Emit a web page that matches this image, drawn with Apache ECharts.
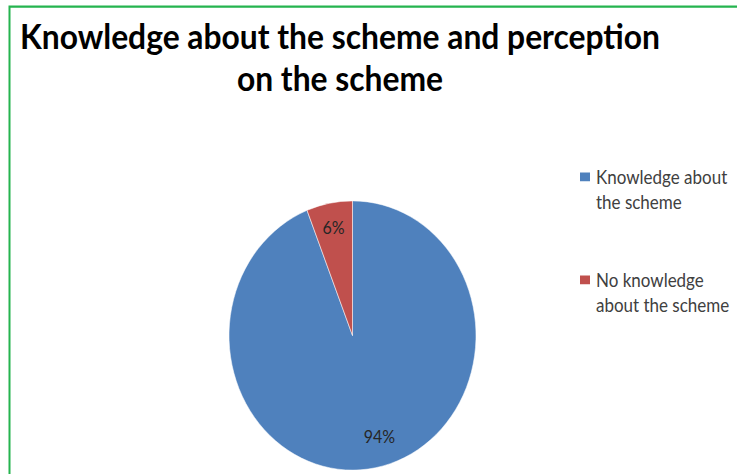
<!DOCTYPE html>
<html>
<head>
<meta charset="utf-8">
<script src="https://cdn.jsdelivr.net/npm/echarts@6/dist/echarts.min.js"></script>
<style>
  html, body { margin: 0; padding: 0; background: #fff; }
  #frame { width: 737px; height: 474px; overflow: hidden; position: relative; }
  /* the drawing is stretched vertically, so the pie renders as a tall ellipse */
  #chart {
    position: absolute;
    left: 0;
    top: 0;
    width: 737px;
    height: 435px;
    transform: scale(1, 1.09);
    transform-origin: 0 0;
  }
</style>
</head>
<body>
<div id="frame"><div id="chart"></div></div>
<script>
// Survey responses: share of respondents aware of the scheme
const categories = ['Knowledge about the scheme', 'No knowledge about the scheme'];
const shares = [94, 6];
// Legend text broken over two lines (a blank first line keeps the marker beside line one)
const legendLines = {
  'Knowledge about the scheme': ' \nKnowledge about\nthe scheme',
  'No knowledge about the scheme': ' \nNo knowledge\nabout the scheme'
};
const sliceColors = ['#4F81BD', '#C0504D'];

const FONT = 'Lato, "Liberation Sans", sans-serif';
const pieData = categories.map((name, i) => ({ name, value: shares[i] }));

const chart = echarts.init(document.getElementById('chart'), null, { renderer: 'svg' });
chart.setOption({
  animation: false,
  backgroundColor: '#ffffff',
  color: sliceColors,
  graphic: [{
    type: 'rect',
    shape: { x: 9.5, y: 6, width: 900, height: 700 },
    style: { fill: 'none', stroke: '#25b44f', lineWidth: 2 },
    silent: true
  }],
  title: {
    text: 'Knowledge about the scheme and perception\non the scheme',
    left: 340,
    top: 13.5,
    padding: 0,
    textAlign: 'center',
    textStyle: {
      fontFamily: FONT,
      fontWeight: 'bold',
      fontSize: 31.8,
      lineHeight: 38.5,
      color: '#000000'
    }
  },
  legend: {
    orient: 'vertical',
    left: 578,
    top: 128.5,
    padding: 0,
    itemWidth: 12,
    itemHeight: 10,
    itemGap: 27,
    icon: 'rect',
    formatter: name => legendLines[name] || name,
    textStyle: {
      fontFamily: FONT,
      fontSize: 17,
      lineHeight: 22.5,
      color: '#404040'
    },
    data: categories
  },
  series: [
    {
      // filled slices
      type: 'pie',
      center: [352.5, 307.8],
      radius: 123.5,
      startAngle: 90,
      clockwise: true,
      label: { show: false },
      labelLine: { show: false },
      emphasis: { disabled: true },
      itemStyle: { borderColor: '#ffffff', borderWidth: 0.5 },
      data: pieData
    },
    {
      // percentage labels placed near the rim
      type: 'pie',
      center: [352.5, 307.8],
      radius: [72, 123.5],
      startAngle: 90,
      clockwise: true,
      silent: true,
      legendHoverLink: false,
      itemStyle: { color: 'rgba(0,0,0,0)', borderWidth: 0 },
      emphasis: { disabled: true },
      label: {
        show: true,
        position: 'inside',
        formatter: '{c}%',
        fontFamily: FONT,
        fontSize: 16,
        color: '#262626'
      },
      // the large slice's label sits a little further round, towards the right
      labelLayout: params => (params.dataIndex === 0 ? { dx: 8, dy: -7 } : {}),
      labelLine: { show: false },
      data: pieData
    }
  ]
});
</script>
</body>
</html>
